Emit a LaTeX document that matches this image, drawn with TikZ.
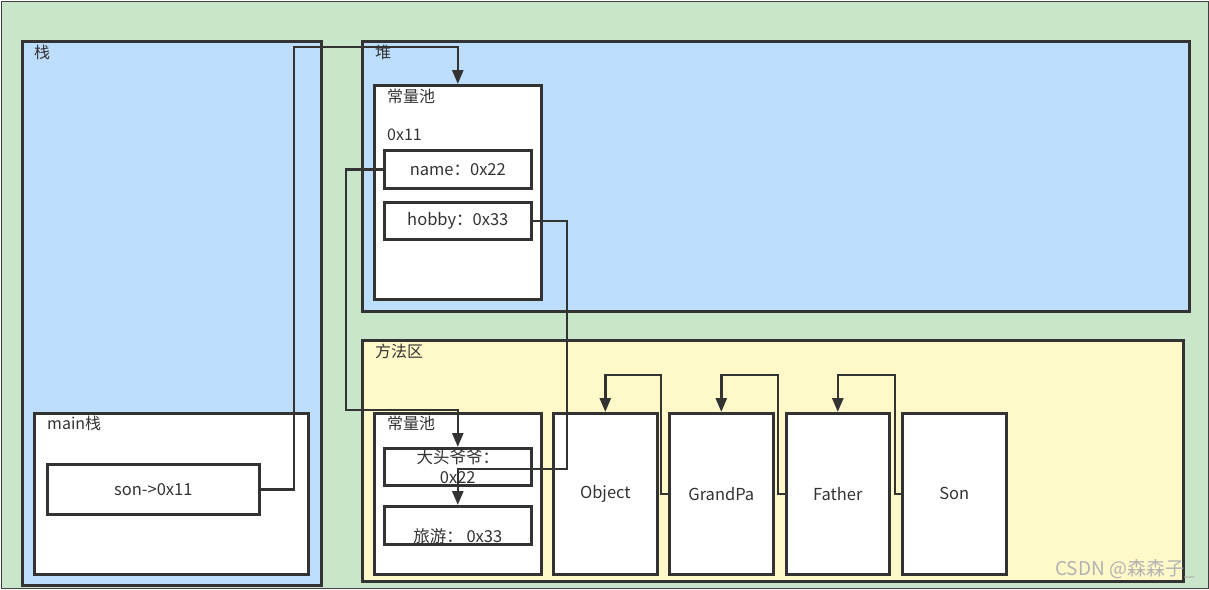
\documentclass[tikz,border=0pt]{standalone}
\usepackage{fontspec}
\setmainfont{Noto Sans CJK SC}
\usetikzlibrary{arrows.meta}
\definecolor{bggreen}{RGB}{201,230,202}
\definecolor{areablue}{RGB}{188,222,250}
\definecolor{areayellow}{RGB}{255,248,200}
\definecolor{linegray}{RGB}{51,51,51}
\tikzset{
    area/.style={draw=linegray, line width=2.6pt, rectangle, anchor=north west, inner sep=0pt},
    cell/.style={area, fill=white, font=\fontsize{16.5}{20}\selectfont, text=linegray, align=center},
    tag/.style={anchor=west, inner sep=0pt, font=\fontsize{16}{18}\selectfont, text=linegray},
    link/.style={draw=linegray, line width=2.6pt, -{Triangle[length=14pt,width=11pt]}},
}
\begin{document}
\begin{tikzpicture}[x=1pt, y=-1pt]
    \useasboundingbox (0,0) rectangle (1209,589);

    % Fond
    \node[draw=black!75, line width=0.8pt, fill=bggreen, anchor=north west, inner sep=0pt,
          minimum width=1207pt, minimum height=587pt] (frame) at (1,1) {};

    % Zone pile
    \node[area, fill=areablue, minimum width=299pt, minimum height=544pt] (stack) at (21,40) {};
    \node[tag] (stacktag) at (34,52) {栈};
    \node[area, fill=white, minimum width=274pt, minimum height=161pt] (mainstack) at (33,412) {};
    \node[tag] (maintag) at (47,423) {main栈};
    \node[cell, minimum width=212pt, minimum height=50pt] (sonvar) at (46,463) {son->0x11};

    % Zone tas
    \node[area, fill=areablue, minimum width=827pt, minimum height=270pt] (heap) at (361,40) {};
    \node[tag] (heaptag) at (375,52) {堆};
    \node[area, fill=white, minimum width=167pt, minimum height=214pt] (heappool) at (373,84) {};
    \node[tag] (heappooltag) at (387,96) {常量池};
    \node[tag] (addrtag) at (387,135) {0x11};
    \node[cell, minimum width=147pt, minimum height=38pt] (name) at (383,149) {name：0x22};
    \node[cell, minimum width=147pt, minimum height=37pt] (hobby) at (383,201) {hobby：0x33};

    % Zone methodes
    \node[area, fill=areayellow, minimum width=821pt, minimum height=241pt] (method) at (361,339) {};
    \node[tag] (methodtag) at (375,351) {方法区};
    \node[area, fill=white, minimum width=167pt, minimum height=161pt] (methodpool) at (373,412) {};
    \node[tag] (methodpooltag) at (387,423) {常量池};
    \node[cell, minimum width=147pt, minimum height=37pt] (grandname) at (383,447) {大头爷爷：\\0x22};
    \node[cell, minimum width=147pt, minimum height=38pt,
          label={[font=\fontsize{16.5}{20}\selectfont, text=linegray, yshift=-11pt]center:旅游：\ 0x33}] (travel) at (383,505) {};

    % Classes
    \node[cell, minimum width=104pt, minimum height=161pt] (object) at (552,412) {Object};
    \node[cell, minimum width=104pt, minimum height=161pt] (grandpa) at (668,412) {GrandPa};
    \node[cell, minimum width=103pt, minimum height=161pt] (father) at (785,412) {Father};
    \node[cell, minimum width=104pt, minimum height=161pt] (sonclass) at (901,412) {Son};

    \node[anchor=east, inner sep=0pt, text=black!30, font=\fontsize{19}{22}\selectfont] (mark) at (1195,569) {CSDN @森森子\_};

    % Relations
    \draw[link] (sonvar.east) -| (294,47) -| (heappool.north);
    \draw[link] (name.west) -| (346,410) -| (grandname.north);
    \draw[link] (hobby.east) -| (567,469) -| (travel.north);
    \draw[link] (grandpa.west) -| (661,375) -| (object.north);
    \draw[link] (father.west) -| (778,375) -| (grandpa.north);
    \draw[link] (sonclass.west) -| (895,375) -| (father.north);

\end{tikzpicture}
\end{document}
